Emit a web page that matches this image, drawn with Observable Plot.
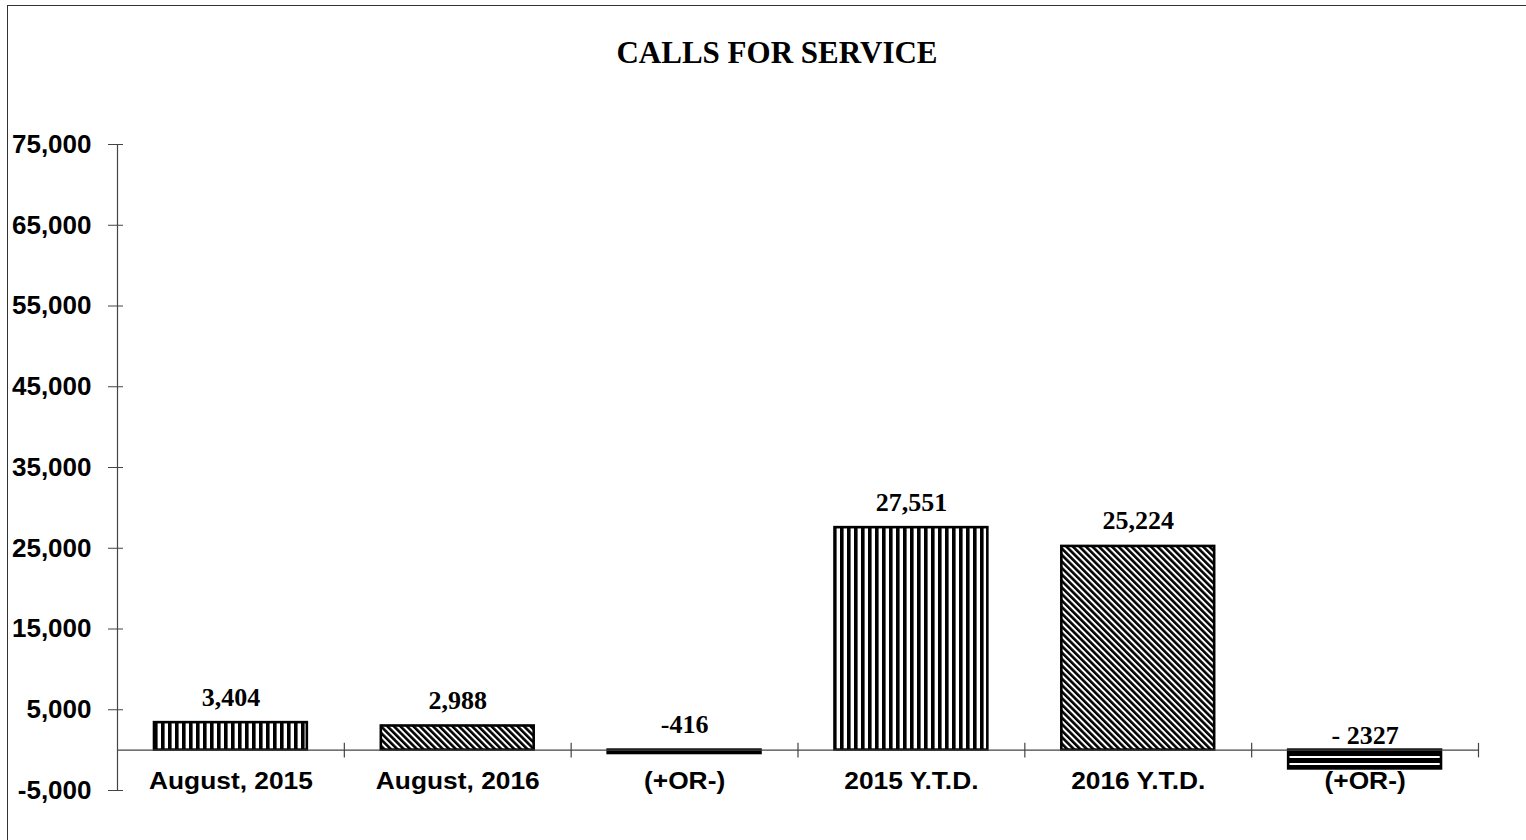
<!DOCTYPE html>
<html>
<head>
<meta charset="utf-8">
<script src="https://cdn.jsdelivr.net/npm/d3@7"></script>
<script src="https://cdn.jsdelivr.net/npm/@observablehq/plot@0.6"></script>
<style>
  html, body { margin: 0; padding: 0; background: #fff; }
  #wrap { position: relative; width: 1526px; height: 840px; overflow: hidden; background: #fff; }
  #title { height: 100px; box-sizing: border-box; padding-top: 37px; padding-left: 28px; text-align: center;
           font-family: "Liberation Serif", "Times New Roman", serif; font-weight: bold; font-size: 31px; line-height: 31px; color: #000; }
  #frameTop { position: absolute; left: 7px; top: 5px; width: 1530px; height: 0; border-top: 1.5px solid #333; }
  #frameLeft { position: absolute; left: 7px; top: 5px; width: 0; height: 850px; border-left: 1.5px solid #333; }
  svg { display: block; }
</style>
</head>
<body>
<div id="wrap">
  <div id="title">CALLS FOR SERVICE</div>
  <div id="frameTop"></div>
  <div id="frameLeft"></div>
</div>
<script>
// ---- data ----
const categories = ["August, 2015", "August, 2016", "(+OR-)", "2015 Y.T.D.", "2016 Y.T.D.", "(+OR-)"];
const values = [3404, 2988, -416, 27551, 25224, -2327];
const valueLabels = ["3,404", "2,988", "-416", "27,551", "25,224", "- 2327"];
const patterns = ["vstripe", "dstripe", "solid", "vstripe", "dstripe", "hstripe"];
const yTicks = [-5000, 5000, 15000, 25000, 35000, 45000, 55000, 65000, 75000];

const data = categories.map((c, i) => ({i, cat: c, value: values[i], label: valueLabels[i], pattern: patterns[i]}));
const boundaries = d3.range(1, categories.length + 1);

const sans = "'Liberation Sans', Arial, sans-serif";
const serif = "'Liberation Serif', 'Times New Roman', serif";
const fmt = d3.format(",");

function defs() {
  const d = d3.create("svg:defs");
  const v = d.append("pattern").attr("id", "vstripe").attr("patternUnits", "userSpaceOnUse").attr("width", 7).attr("height", 10);
  v.append("rect").attr("width", 7).attr("height", 10).attr("fill", "#fff");
  v.append("rect").attr("width", 3.6).attr("height", 10).attr("fill", "#000");
  const g = d.append("pattern").attr("id", "dstripe").attr("patternUnits", "userSpaceOnUse").attr("width", 4.6).attr("height", 10).attr("patternTransform", "rotate(-45)");
  g.append("rect").attr("width", 4.6).attr("height", 10).attr("fill", "#fff");
  g.append("rect").attr("width", 2.6).attr("height", 10).attr("fill", "#000");
  const h = d.append("pattern").attr("id", "hstripe").attr("patternUnits", "userSpaceOnUse").attr("width", 10).attr("height", 7);
  h.append("rect").attr("width", 10).attr("height", 7).attr("fill", "#fff");
  h.append("rect").attr("width", 10).attr("height", 5).attr("fill", "#000");
  return d.node();
}

const chart = Plot.plot({
  width: 1526,
  height: 740,
  marginTop: 44,
  marginBottom: 50,
  marginLeft: 117,
  marginRight: 48,
  x: {domain: [0, categories.length], axis: null},
  y: {domain: [-5000, 75000], axis: null},
  color: {type: "identity"},
  style: {background: "transparent", overflow: "visible"},
  marks: [
    defs,
    Plot.rect(data, {
      x1: "i", x2: d => d.i + 1, y1: 0, y2: "value",
      insetLeft: 37, insetRight: 37,
      fill: d => d.pattern === "solid" ? "#000" : `url(#${d.pattern})`,
      stroke: "#000", strokeWidth: 2.6
    }),
    Plot.ruleX([0], {stroke: "#444", strokeWidth: 1.2}),
    Plot.ruleY([0], {stroke: "#444", strokeWidth: 1.2}),
    Plot.link(boundaries, {x1: d => d, x2: d => d, y1: -900, y2: 900, stroke: "#444", strokeWidth: 1.2}),
    Plot.axisY(yTicks, {
      label: null, tickSize: 15, dx: 6, tickPadding: 17,
      tickFormat: d => fmt(d).replace("\u2212", "-"),
      stroke: "#444", fill: "#000",
      fontSize: 26, fontWeight: "bold", fontFamily: sans
    }),
    Plot.text(data, {
      x: d => d.i + 0.5, y: 0, text: "cat", dy: 23, lineAnchor: "top",
      fontSize: 23, fontWeight: "bold", fontFamily: sans, fill: "#000"
    }),
    Plot.text(data.slice(0, 5), {
      x: d => d.i + 0.5, y: d => Math.max(d.value, 0), text: "label", dy: -17, lineAnchor: "bottom",
      fontSize: 26, fontWeight: "bold", fontFamily: serif, fill: "#000"
    }),
    Plot.text(data.slice(5), {
      x: d => d.i + 0.5, y: d => Math.max(d.value, 0), text: "label", dy: -6, lineAnchor: "bottom",
      fontSize: 26, fontWeight: "bold", fontFamily: serif, fill: "#000"
    })
  ]
});

document.getElementById("wrap").appendChild(chart);

// widen the category labels to match the stretched look of the original
d3.select(chart).selectAll('g[font-size="23"] text').each(function () {
  const w = this.getComputedTextLength();
  this.setAttribute("textLength", (w * 1.145).toFixed(1));
  this.setAttribute("lengthAdjust", "spacingAndGlyphs");
});
</script>
</body>
</html>
